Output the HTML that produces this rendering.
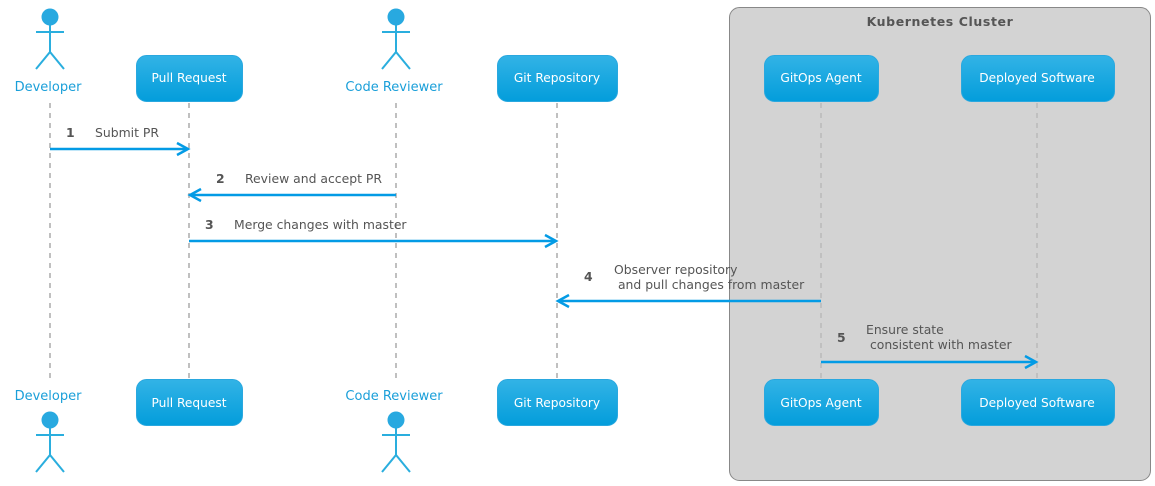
<!DOCTYPE html>
<html><head><meta charset="utf-8"><style>body{margin:0;background:#fff}svg{display:block}text{font-family:"DejaVu Sans","Liberation Sans",sans-serif;white-space:pre}</style></head><body>
<svg width="1155" height="486" viewBox="0 0 1155 486" xmlns="http://www.w3.org/2000/svg" xml:space="preserve">
<defs>
<linearGradient id="g" x1="0" y1="0" x2="0" y2="1"><stop offset="0" stop-color="#32b3e6"/><stop offset="1" stop-color="#039ddb"/></linearGradient>
</defs>
<rect x="729.5" y="7.5" width="421" height="473" rx="10" fill="#d3d3d3" stroke="#888" stroke-width="1"/>
<text x="940" y="26" font-size="12.5" font-weight="bold" fill="#555" text-anchor="middle" letter-spacing="0.6">Kubernetes Cluster</text>
<g stroke="#c0c0c0" stroke-width="2" stroke-dasharray="5,5">
<line x1="50" y1="103" x2="50" y2="378"/><line x1="189" y1="103" x2="189" y2="378"/><line x1="396" y1="103" x2="396" y2="378"/><line x1="557" y1="103" x2="557" y2="378"/><line x1="821" y1="103" x2="821" y2="378"/><line x1="1037" y1="103" x2="1037" y2="378"/>
</g>
<g fill="url(#g)" stroke="#2aa8df" stroke-width="1">
<rect x="136.5" y="55.5" width="106" height="46" rx="10"/><rect x="497.5" y="55.5" width="120" height="46" rx="10"/><rect x="764.5" y="55.5" width="114" height="46" rx="10"/><rect x="961.5" y="55.5" width="153" height="46" rx="10"/>
<rect x="136.5" y="379.5" width="106" height="46" rx="10"/><rect x="497.5" y="379.5" width="120" height="46" rx="10"/><rect x="764.5" y="379.5" width="114" height="46" rx="10"/><rect x="961.5" y="379.5" width="153" height="46" rx="10"/>
</g>
<g fill="#fff" font-size="12.2" text-anchor="middle">
<text x="189" y="82">Pull Request</text><text x="557" y="82">Git Repository</text><text x="821" y="82">GitOps Agent</text><text x="1037" y="82">Deployed Software</text>
<text x="189" y="407">Pull Request</text><text x="557" y="407">Git Repository</text><text x="821" y="407">GitOps Agent</text><text x="1037" y="407">Deployed Software</text>
</g>
<g fill="#1a9fd9" font-size="13" text-anchor="middle">
<text x="48" y="91">Developer</text><text x="394" y="91">Code Reviewer</text>
<text x="48" y="400">Developer</text><text x="394" y="400">Code Reviewer</text>
</g>
<g stroke="#2aaede" stroke-width="2" fill="none">
<path d="M50 25V52M36 32H64M36 69L50 52L64 69"/><path d="M396 25V52M382 32H410M382 69L396 52L410 69"/>
<path d="M50 428V455M36 435H64M36 472L50 455L64 472"/><path d="M396 428V455M382 435H410M382 472L396 455L410 472"/>
</g>
<g fill="#28a9e0"><circle cx="50" cy="17" r="8.5"/><circle cx="396" cy="17" r="8.5"/><circle cx="50" cy="420" r="8.5"/><circle cx="396" cy="420" r="8.5"/></g>
<g stroke="#039be5" stroke-width="2.5" fill="none">
<line x1="50" y1="149" x2="187" y2="149"/><path d="M177 143L188 149L177 155"/>
<line x1="396" y1="195" x2="191" y2="195"/><path d="M201 189L190 195L201 201"/>
<line x1="189" y1="241" x2="555" y2="241"/><path d="M545 235L556 241L545 247"/>
<line x1="821" y1="301" x2="559" y2="301"/><path d="M569 295L558 301L569 307"/>
<line x1="821" y1="362" x2="1035" y2="362"/><path d="M1025 356L1036 362L1025 368"/>
</g>
<g fill="#555" font-size="12.4">
<text x="66" y="137" font-weight="bold">1</text><text x="95" y="137">Submit PR</text>
<text x="216" y="183" font-weight="bold">2</text><text x="245" y="183">Review and accept PR</text>
<text x="205" y="229" font-weight="bold">3</text><text x="234" y="229">Merge changes with master</text>
<text x="584" y="281" font-weight="bold">4</text><text x="614" y="274">Observer repository</text><text x="614" y="289"> and pull changes from master</text>
<text x="837" y="342" font-weight="bold">5</text><text x="866" y="334">Ensure state</text><text x="866" y="349"> consistent with master</text>
</g>
</svg>
</body></html>
